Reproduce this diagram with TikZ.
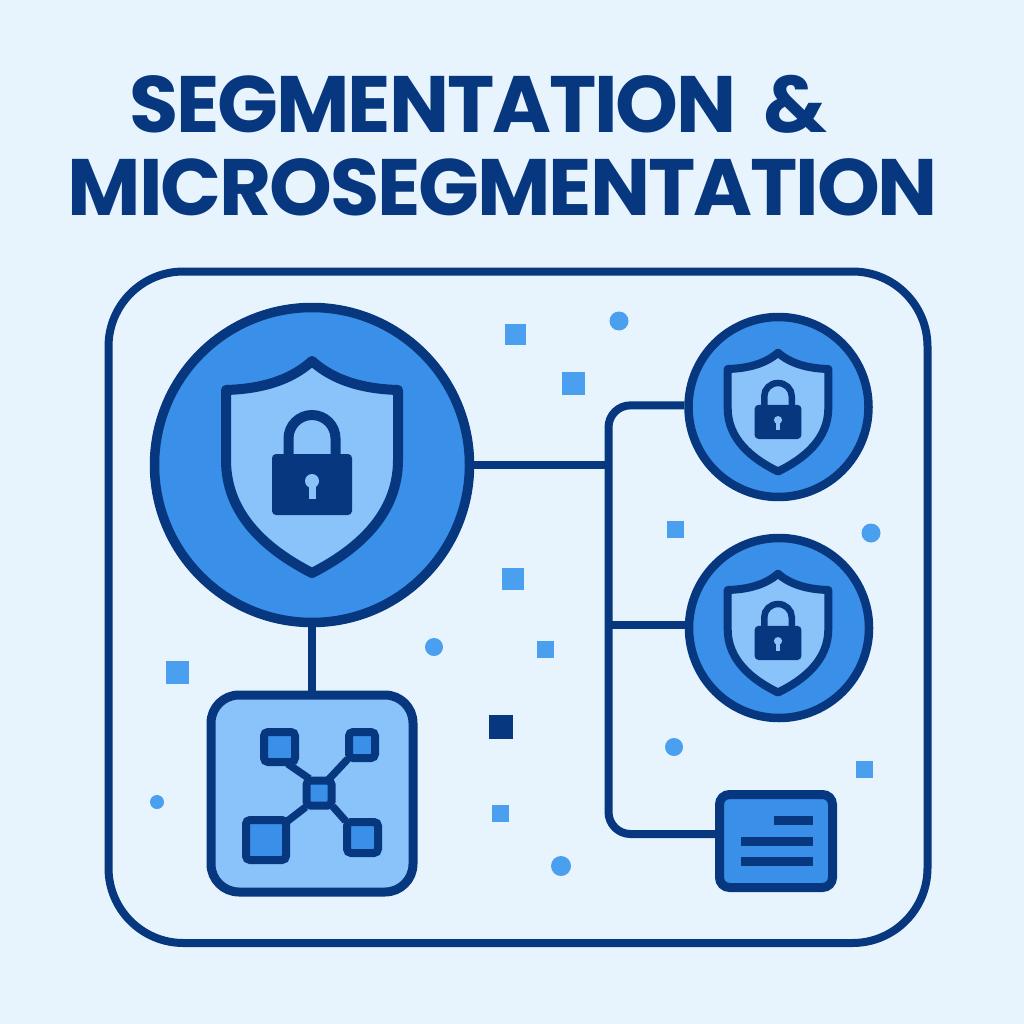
\documentclass[tikz,border=0pt]{standalone}
\usepackage{fontspec}
\setmainfont{Poppins}[LetterSpace=-2.6]
\definecolor{navy}{HTML}{07377F}
\definecolor{midblue}{HTML}{3A8FE8}
\definecolor{paleblue}{HTML}{8AC2FA}
\definecolor{speck}{HTML}{4A9FEE}
\definecolor{backdrop}{HTML}{E7F4FE}
\tikzset{
  titletext/.style={text=navy,font=\bfseries\fontsize{80}{80}\selectfont,inner sep=0pt,anchor=base west},
  wire/.style={draw=navy,line width=8pt},
  link/.style={draw=navy,line width=7.5pt,shorten >=-4pt,shorten <=-4pt},
  guard/.style={circle,draw=navy,fill=midblue,inner sep=0pt},
  chip/.style={rectangle,rounded corners=4pt,draw=navy,fill=midblue,line width=8pt,inner sep=0pt},
  squarespeck/.style={rectangle,fill=speck,inner sep=0pt},
  roundspeck/.style={circle,fill=speck,inner sep=0pt},
  shieldlock/.pic={
    \draw[draw=navy,fill=paleblue,line width=\pgfkeysvalueof{/tikz/shieldwidth},line join=round]
      (0,-104) .. controls (-22,-84) and (-52,-76) .. (-86,-75) -- (-86,-5)
      .. controls (-86,50) and (-45,85) .. (0,108)
      .. controls (45,85) and (86,50) .. (86,-5) -- (86,-75)
      .. controls (52,-76) and (22,-84) .. cycle;
    \draw[draw=navy,line width=\pgfkeysvalueof{/tikz/shacklewidth}]
      (-23.5,-8) -- (-23.5,-26.5) arc[start angle=180,end angle=360,radius=23.5] -- (23.5,-8);
    \fill[navy,rounded corners=4pt] (-40,-11) rectangle (40,50);
    \fill[paleblue] (0,16) ellipse[x radius=7,y radius=7];
    \fill[paleblue] (-3.5,16) rectangle (3.5,34);
  },
  shieldwidth/.initial=10pt,
  shacklewidth/.initial=10pt
}
\begin{document}
\begin{tikzpicture}[x=1pt,y=-1pt]
  \useasboundingbox (0,0) rectangle (1024,1024);
  \fill[backdrop] (0,0) rectangle (1024,1024);
  %% Title
  \node[titletext] (title1) at (129,133) {SEGMENTATION\hspace{.33em}\&};
  \node[titletext] (title2) at (67.5,216) {MICROSEGMENTATION};
  %% Frame
  \draw[navy,line width=8pt,rounded corners=75pt] (108.5,271.5) rectangle (927.5,943);
  %% Shields
  \node[guard,line width=9.5pt,minimum size=315pt] (main) at (312,465) {};
  \pic at (312,465) {shieldlock};
  \node[guard,line width=8.5pt,minimum size=180pt] (guard1) at (778.5,407) {};
  \pic[xscale=.585,yscale=.56,shieldwidth=8pt,shacklewidth=6.5pt] at (778,411) {shieldlock};
  \node[guard,line width=8.5pt,minimum size=180pt] (guard2) at (779,628) {};
  \pic[xscale=.585,yscale=.56,shieldwidth=8pt,shacklewidth=6.5pt] at (778,632) {shieldlock};
  %% Network box
  \node[rectangle,rounded corners=28pt,draw=navy,fill=paleblue,line width=9pt,
    minimum width=202pt,minimum height=197pt] (netbox) at (312,793.5) {};
  \node[chip,minimum width=25pt,minimum height=25pt] (hub) at (319,793) {};
  \node[chip,minimum width=31pt,minimum height=30pt] (leaf1) at (279.5,747) {};
  \node[chip,minimum width=26pt,minimum height=26pt] (leaf2) at (362,745) {};
  \node[chip,minimum width=40pt,minimum height=40pt] (leaf3) at (266,840) {};
  \node[chip,minimum width=31pt,minimum height=31pt] (leaf4) at (362.5,837.5) {};
  \draw[link] (leaf1.-59) -- (hub.128);
  \draw[link] (leaf2.south west) -- (hub.53);
  \draw[link] (leaf3.41) -- (hub.south west);
  \draw[link] (leaf4.north west) -- (hub.south east);
  %% Note card
  \node[rectangle,rounded corners=10pt,draw=navy,fill=midblue,line width=9pt,
    minimum width=113pt,minimum height=93pt] (note) at (776,841) {};
  \node[rectangle,fill=navy,inner sep=0pt,minimum width=39pt,minimum height=9pt] (rule1) at (793,820) {};
  \node[rectangle,fill=navy,inner sep=0pt,minimum width=72pt,minimum height=9pt] (rule2) at (776.5,841) {};
  \node[rectangle,fill=navy,inner sep=0pt,minimum width=72pt,minimum height=9pt] (rule3) at (776.5,861.5) {};
  %% Connectors
  \coordinate (trunkx) at (608.5,0);
  \coordinate (trunktop) at (guard1.179 -| trunkx);
  \coordinate (trunkend) at (608.5,834);
  \draw[wire,rounded corners=22pt] (guard1.179) -- (trunktop) -- (trunkend) -- (note.west |- trunkend);
  \draw[wire] (main.east) -- (main.east -| trunkx);
  \draw[wire] (guard2.178) -- (guard2.178 -| trunkx);
  \draw[wire] (main.south) -- (netbox.north);
  %% Specks
  \node[squarespeck,minimum size=21pt] (sq1) at (515,334) {};
  \node[squarespeck,minimum size=23pt] (sq2) at (573,383) {};
  \node[squarespeck,minimum size=17pt] (sq3) at (675,529) {};
  \node[squarespeck,minimum size=22pt] (sq4) at (513,579) {};
  \node[squarespeck,minimum size=17pt] (sq5) at (545,649) {};
  \node[squarespeck,minimum size=23pt] (sq6) at (177,672) {};
  \node[squarespeck,fill=navy,minimum size=24pt] (sq7) at (501,727) {};
  \node[squarespeck,minimum size=17pt] (sq8) at (500,813) {};
  \node[squarespeck,minimum size=17pt] (sq9) at (864,769) {};
  \node[roundspeck,minimum size=19pt] (dot1) at (619,321) {};
  \node[roundspeck,minimum size=19pt] (dot2) at (871,533) {};
  \node[roundspeck,minimum size=18pt] (dot3) at (434,647) {};
  \node[roundspeck,minimum size=18pt] (dot4) at (674,747) {};
  \node[roundspeck,minimum size=14pt] (dot5) at (157,802) {};
  \node[roundspeck,minimum size=20pt] (dot6) at (561,866) {};
\end{tikzpicture}
\end{document}
